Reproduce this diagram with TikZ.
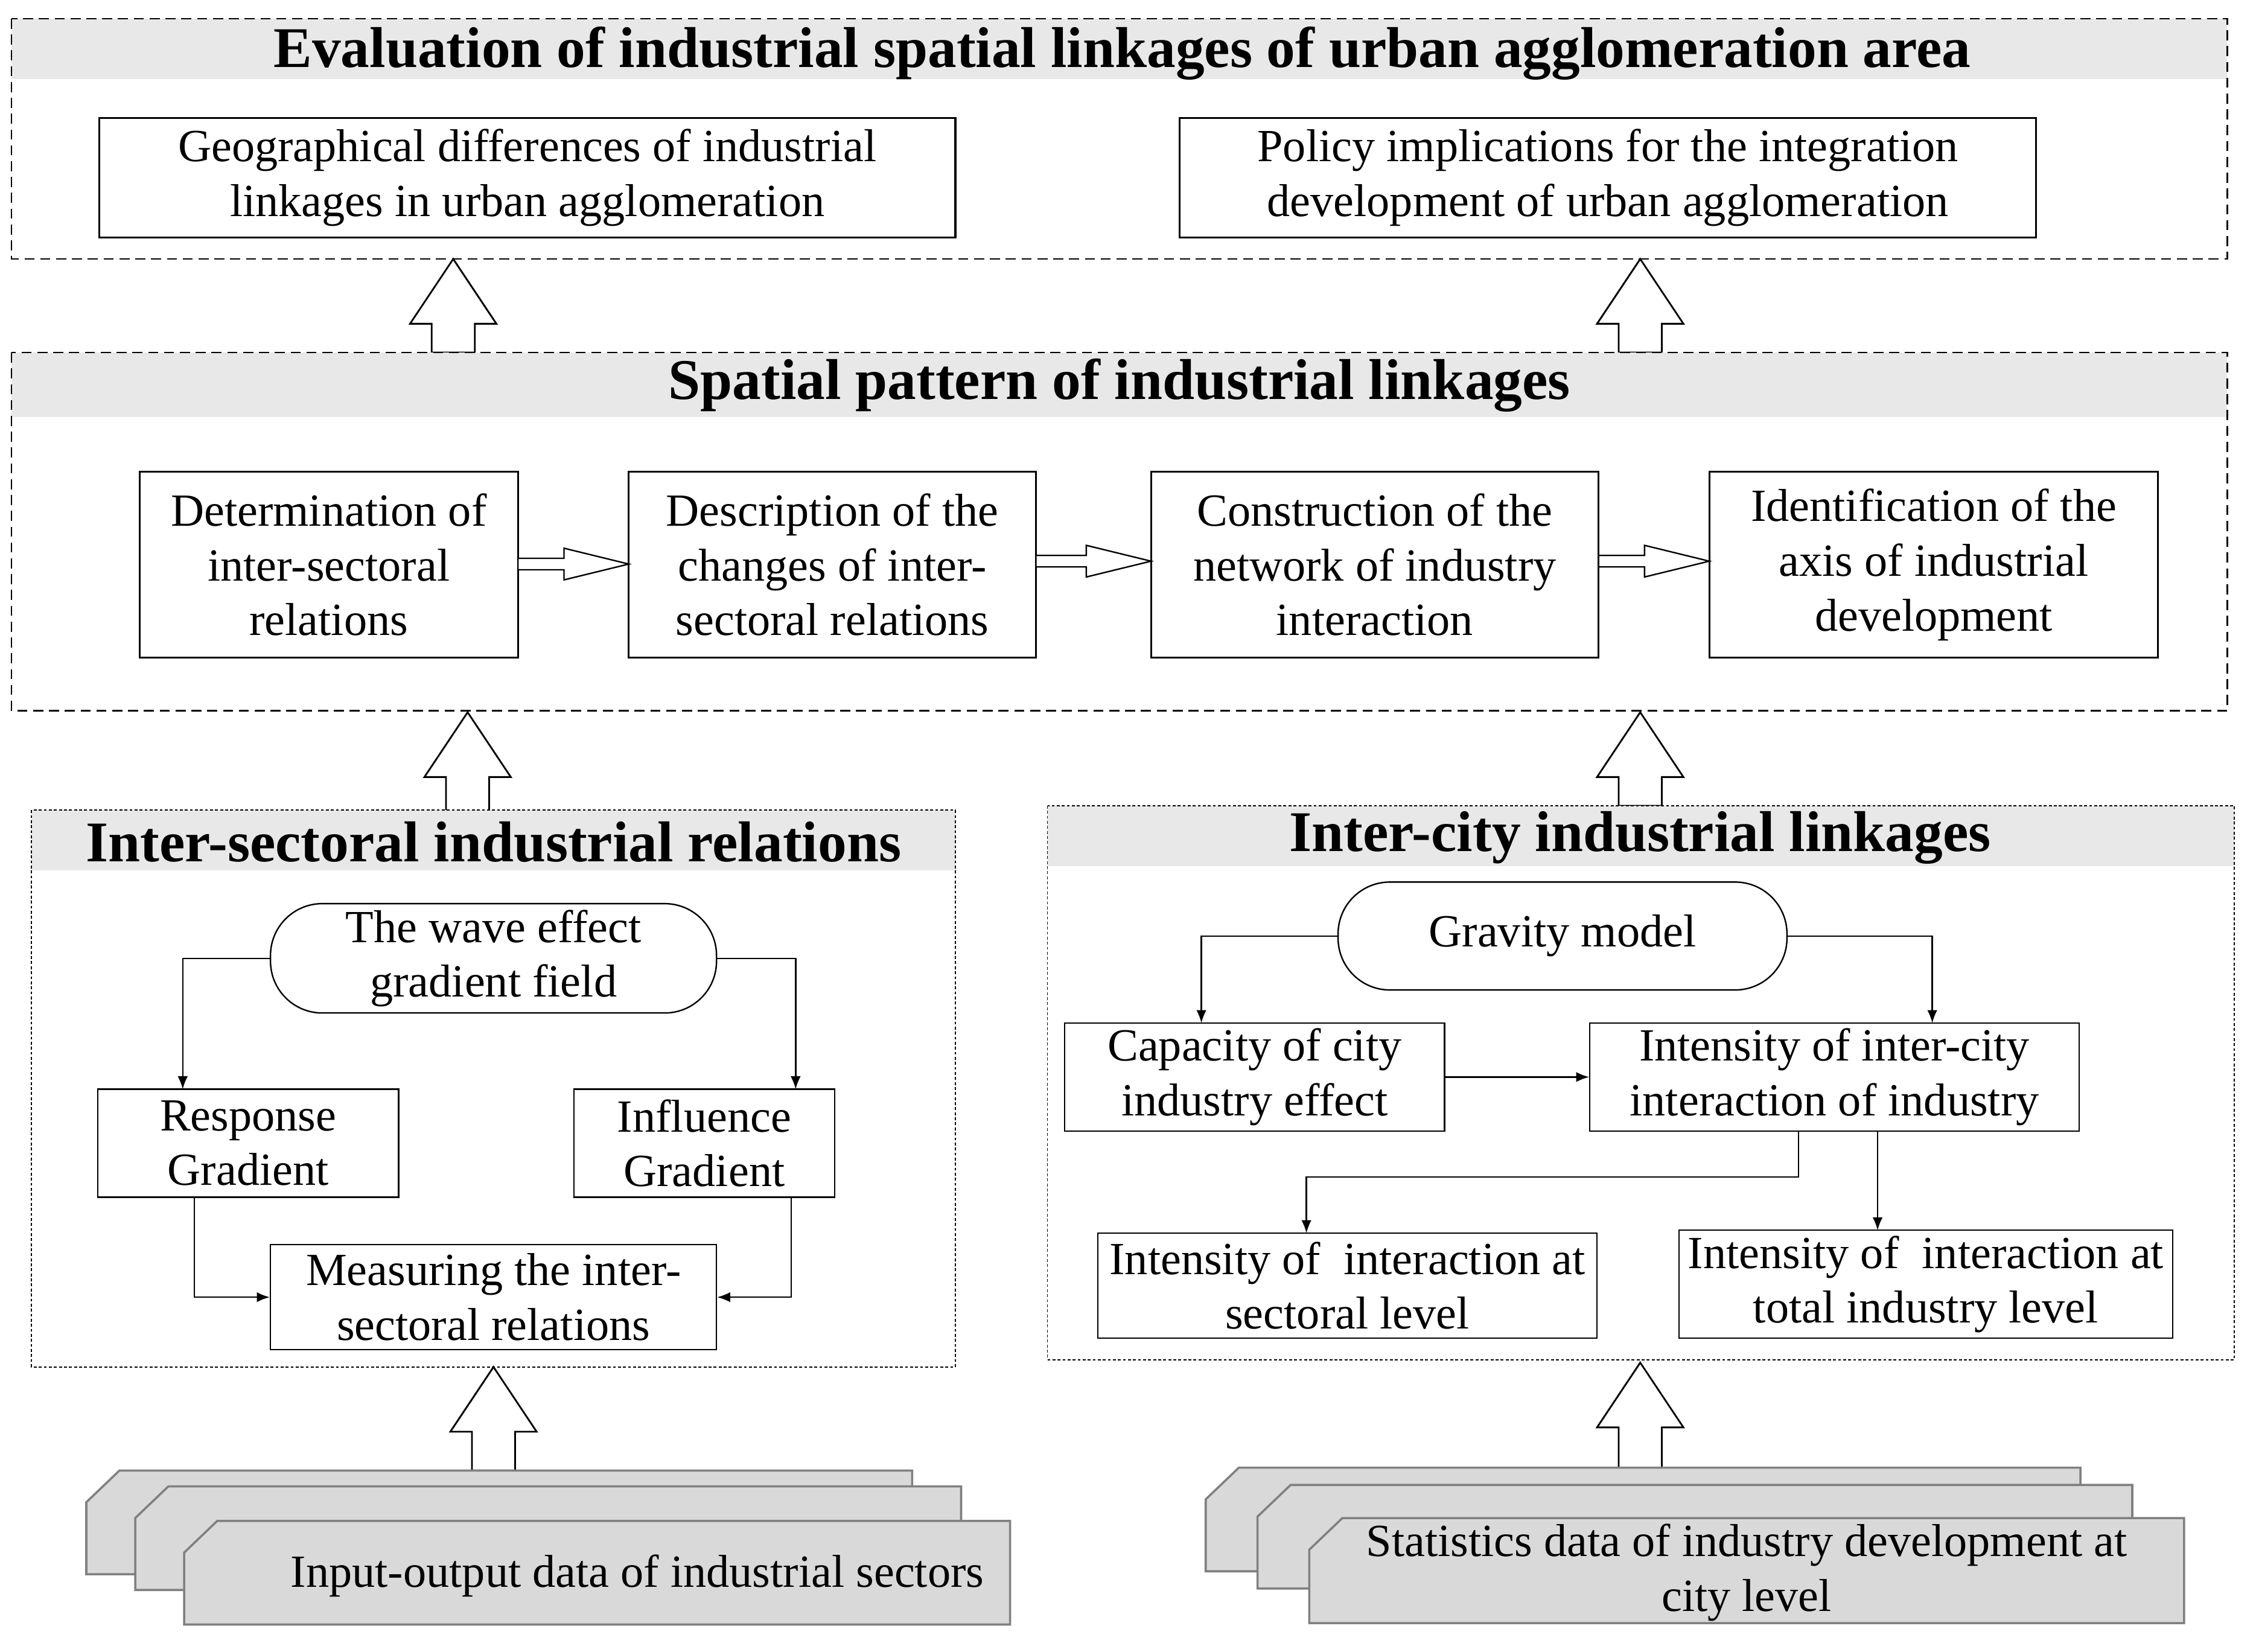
\documentclass[tikz,border=0pt]{standalone}
\usepackage{fontspec}
\setmainfont{Liberation Serif}
\begin{document}
\begin{tikzpicture}[x=1pt,y=-1pt,
  box/.style={draw,line width=1.3pt,align=center,inner sep=0pt,font=\fontsize{32}{38}\selectfont},
  pill/.style={draw,line width=1pt,rounded corners=36pt,align=center,inner sep=0pt,font=\fontsize{32}{38}\selectfont},
  frame/.style={draw,dash pattern=on 7pt off 4pt,line width=1pt},
  dframe/.style={draw,dash pattern=on 2pt off 1.5pt,line width=0.8pt},
  band/.style={fill=black!9,draw=none},
  ttl/.style={font=\fontsize{40}{44}\selectfont\bfseries},
  hol/.style={draw,line width=1.2pt,fill=white},
  con/.style={draw,line width=1pt,-{Latex[length=9pt,width=7pt]}},
  stk/.style={draw=black!50,line width=1.5pt,fill=black!15}]
\usetikzlibrary{arrows.meta}
\useasboundingbox (0,0) rectangle (1568,1148);
\newcommand\bigup[3]{\path[hol] (#1-15,#3) -- (#1-15,#2+45) -- (#1-30,#2+45) -- (#1,#2) -- (#1+30,#2+45) -- (#1+15,#2+45) -- (#1+15,#3) -- cycle;}
\newcommand\smallr[3]{\path[hol,line width=1pt] (#1,#3-4) -- (#2-45,#3-4) -- (#2-45,#3-11) -- (#2,#3) -- (#2-45,#3+11) -- (#2-45,#3+4) -- (#1,#3+4) -- cycle;}
\newcommand\stack[4]{\path[stk] (#1,#2+22) -- (#1+23,#2) -- (#1+#3,#2) -- (#1+#3,#2+#4) -- (#1,#2+#4) -- cycle;}
% top frame
\fill[band] (8,13) rectangle (1548,55);
\path[frame] (8,13) rectangle (1548,180);
\node[ttl] (t1) at (780,37) {Evaluation of industrial spatial linkages of urban agglomeration area};
\node[box,minimum width=595pt,minimum height=83pt] (g1) at (366.5,123.5) {Geographical differences of industrial\\linkages in urban agglomeration};
\node[box,minimum width=595pt,minimum height=83pt] (g2) at (1117.5,123.5) {Policy implications for the integration\\development of urban agglomeration};
\bigup{315}{180}{245}
\bigup{1140}{180}{245}
% middle frame
\fill[band] (8,245) rectangle (1548,290);
\path[frame] (8,245) rectangle (1548,494);
\node[ttl] (t2) at (778,268) {Spatial pattern of industrial linkages};
\node[box,minimum width=263pt,minimum height=129pt] (m1) at (228.5,392.5) {Determination of\\inter-sectoral\\relations};
\node[box,minimum width=283pt,minimum height=129pt] (m2) at (578.5,392.5) {Description of the\\changes of inter-\\sectoral relations};
\node[box,minimum width=311pt,minimum height=129pt] (m3) at (955.5,392.5) {Construction of the\\network of industry\\interaction};
\node[box,minimum width=312pt,minimum height=129pt] (m4) at (1344,392.5) {Identification of the\\axis of industrial\\development};
\smallr{360}{437}{392}
\smallr{720}{800}{390}
\smallr{1111}{1188}{390}
\bigup{325}{495}{565}
\bigup{1140}{495}{560}
% left frame
\fill[band] (22,563) rectangle (664,605);
\path[dframe] (22,563) rectangle (664,950);
\node[ttl] (t3) at (343,585) {Inter-sectoral industrial relations};
\node[pill,minimum width=310pt,minimum height=76pt] (w) at (343,666) {The wave effect\\gradient field};
\node[box,line width=1pt,minimum width=209pt,minimum height=75pt] (rg) at (172.5,794.5) {Response\\Gradient};
\node[box,line width=1pt,minimum width=181pt,minimum height=75pt] (ig) at (489.5,794.5) {Influence\\Gradient};
\node[box,line width=1pt,minimum width=310pt,minimum height=73pt] (ms) at (343,901.5) {Measuring the inter-\\sectoral relations};
\draw[con] (w.west) -| (127,757);
\draw[con] (w.east) -| (553,757);
\draw[con] (135,832) |- (ms.west);
\draw[con] (550,832) |- (ms.east);
% right frame
\fill[band] (728,560) rectangle (1553,602);
\path[dframe] (728,560) rectangle (1553,945);
\node[ttl] (t4) at (1140,582) {Inter-city industrial linkages};
\node[pill,minimum width=312pt,minimum height=75pt] (gm) at (1086,650.5) {Gravity model};
\node[box,line width=1pt,minimum width=264pt,minimum height=75pt] (cc) at (872,748.5) {Capacity of city\\industry effect};
\node[box,line width=1pt,minimum width=340pt,minimum height=75pt] (ii) at (1275,748.5) {Intensity of inter-city\\interaction of industry};
\node[box,line width=1pt,minimum width=347pt,minimum height=73pt] (s1) at (936.5,893.5) {Intensity of\ \ interaction at\\sectoral level};
\node[box,line width=1pt,minimum width=343pt,minimum height=75pt] (s2) at (1338.5,892.5) {Intensity of\ \ interaction at\\total industry level};
\draw[con] (gm.west) -| (835,711);
\draw[con] (gm.east) -| (1343,711);
\draw[con] (cc.east) -- (ii.west);
\draw[con] (1250,786) -- (1250,818) -| (908,857);
\draw[con] (1305,786) -- (1305,855);
\bigup{343}{950}{1022}
\bigup{1140}{947}{1020}
% data stacks
\stack{60}{1022}{574}{72}
\stack{94}{1033}{574}{72}
\stack{128}{1057}{574}{72}
\node[font=\fontsize{32}{38}\selectfont] (d1) at (443,1095) {Input-output data of industrial sectors};
\stack{838}{1020}{608}{72}
\stack{874}{1032}{608}{72}
\stack{910}{1055}{608}{73}
\node[font=\fontsize{32}{38}\selectfont,align=center] (d2) at (1214,1093) {Statistics data of industry development at\\city level};
\end{tikzpicture}
\end{document}
